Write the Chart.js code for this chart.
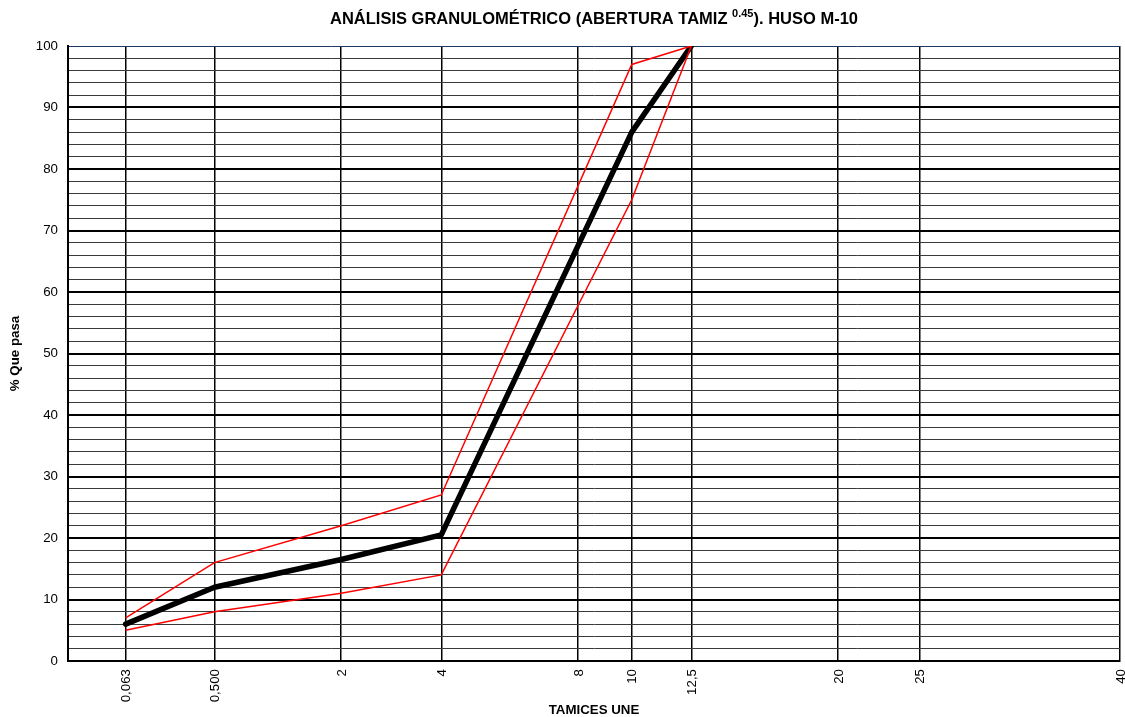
<!DOCTYPE html>
<html>
<head>
<meta charset="utf-8">
<script src="https://cdn.jsdelivr.net/npm/chart.js@4.4.0/dist/chart.umd.min.js"></script>
<style>
  html, body { margin: 0; padding: 0; background: #fff; }
  #wrap { width: 1125px; height: 717px; }
</style>
</head>
<body>
<div id="wrap"><canvas id="huso_chart" width="1125" height="717"></canvas></div>
<script>
// sieve openings (mm), x axis is opening^0.45
const EXP = 0.45;
const sieves = [0.063, 0.5, 2, 4, 8, 10, 12.5, 20, 25, 40];
const sieveLabels = ['0,063', '0,500', '2', '4', '8', '10', '12,5', '20', '25', '40'];

// measured curve and M-10 envelope
const curveSieves = [0.063, 0.5, 2, 4, 10, 12.5];
const pasa = [6, 12, 16.5, 20.5, 86, 100];
const husoSup = [7, 16, 22, 27, 97, 100];
const husoInf = [5, 8, 11, 14, 75, 100];

const yTicks = [];
for (let v = 0; v <= 100; v += 2) yTicks.push(v);

const toX = s => Math.pow(s, EXP);
const pts = vals => curveSieves.map((s, i) => ({ x: toX(s), y: vals[i] }));

const FONT = '"Liberation Sans", Arial, sans-serif';

const titlePlugin = {
  id: 'supTitle',
  afterDraw(chart) {
    const ctx = chart.ctx;
    const a = chart.chartArea;
    const p1 = 'ANÁLISIS GRANULOMÉTRICO (ABERTURA TAMIZ ';
    const sup = '0.45';
    const p2 = '). HUSO M-10';
    const big = 'bold 16.5px ' + FONT;
    const small = 'bold 11px ' + FONT;
    ctx.save();
    ctx.fillStyle = '#000';
    ctx.textBaseline = 'alphabetic';
    ctx.font = big;
    const w1 = ctx.measureText(p1).width;
    const w3 = ctx.measureText(p2).width;
    ctx.font = small;
    const w2 = ctx.measureText(sup).width;
    let x = (a.left + a.right) / 2 - (w1 + w2 + w3) / 2;
    const y = 24;
    ctx.textAlign = 'left';
    ctx.font = big;
    ctx.fillText(p1, x, y);
    x += w1;
    ctx.font = small;
    ctx.fillText(sup, x, y - 7);
    x += w2;
    ctx.font = big;
    ctx.fillText(p2, x, y);
    ctx.restore();
  }
};

const cvas = document.getElementById('huso_chart');
const ctz = cvas.getContext('2d');

const huso_chart = new Chart(ctz, {
  type: 'scatter',
  data: {
    datasets: [
      {
        label: 'Huso superior',
        data: pts(husoSup),
        showLine: true,
        borderColor: '#ff0000',
        borderWidth: 1.5,
        pointRadius: 0,
        fill: false
      },
      {
        label: 'Huso inferior',
        data: pts(husoInf),
        showLine: true,
        borderColor: '#ff0000',
        borderWidth: 1.5,
        pointRadius: 0,
        fill: false
      },
      {
        label: '% Que pasa',
        data: pts(pasa),
        showLine: true,
        borderColor: '#000000',
        borderWidth: 5.5,
        pointRadius: 0,
        borderJoinStyle: 'round',
        borderCapStyle: 'round',
        fill: false
      }
    ]
  },
  options: {
    responsive: false,
    animation: false,
    layout: { padding: { top: 46, right: 5, left: 0, bottom: 0 } },
    plugins: {
      legend: { display: false },
      title: { display: false },
      tooltip: { enabled: false }
    },
    scales: {
      x: {
        type: 'linear',
        min: 0,
        max: toX(40),
        afterBuildTicks: scale => {
          scale.ticks = sieves.map(s => ({ value: toX(s) }));
        },
        afterFit: scale => {
          scale.height = 56;
          scale.paddingLeft = 0;
          scale.paddingRight = 0;
        },
        ticks: {
          autoSkip: false,
          maxRotation: 90,
          minRotation: 90,
          padding: 8,
          labelOffset: 1,
          color: '#000',
          font: { size: 13.3, family: FONT },
          callback: (value, index) => sieveLabels[index]
        },
        grid: {
          drawTicks: false,
          color: '#000',
          lineWidth: 1.5
        },
        border: { display: true, color: '#000', width: 2 },
        title: {
          display: true,
          text: 'TAMICES UNE',
          color: '#000',
          padding: { top: 0, bottom: -1 },
          font: { size: 13.3, weight: 'bold', family: FONT }
        }
      },
      y: {
        min: 0,
        max: 100,
        afterBuildTicks: scale => {
          scale.ticks = yTicks.map(v => ({ value: v }));
        },
        afterFit: scale => {
          scale.width = 68;
          scale.paddingTop = 0;
          scale.paddingBottom = 0;
        },
        ticks: {
          autoSkip: false,
          padding: 10,
          color: '#000',
          font: { size: 13.3, family: FONT },
          callback: value => (value % 10 === 0 ? String(value) : '')
        },
        grid: {
          drawTicks: false,
          color: c => (c.tick && c.tick.value === 100 ? '#1f3864' : (c.tick && c.tick.value % 10 === 0 ? '#000' : '#3a3a3a')),
          lineWidth: c => (c.tick && c.tick.value % 10 === 0 && c.tick.value !== 100 ? 2 : 1)
        },
        border: { display: true, color: '#000', width: 2 },
        title: {
          display: true,
          text: '% Que pasa',
          color: '#000',
          padding: { top: 7, bottom: 0 },
          font: { size: 13.3, weight: 'bold', family: FONT }
        }
      }
    }
  },
  plugins: [titlePlugin]
});
</script>
</body>
</html>
